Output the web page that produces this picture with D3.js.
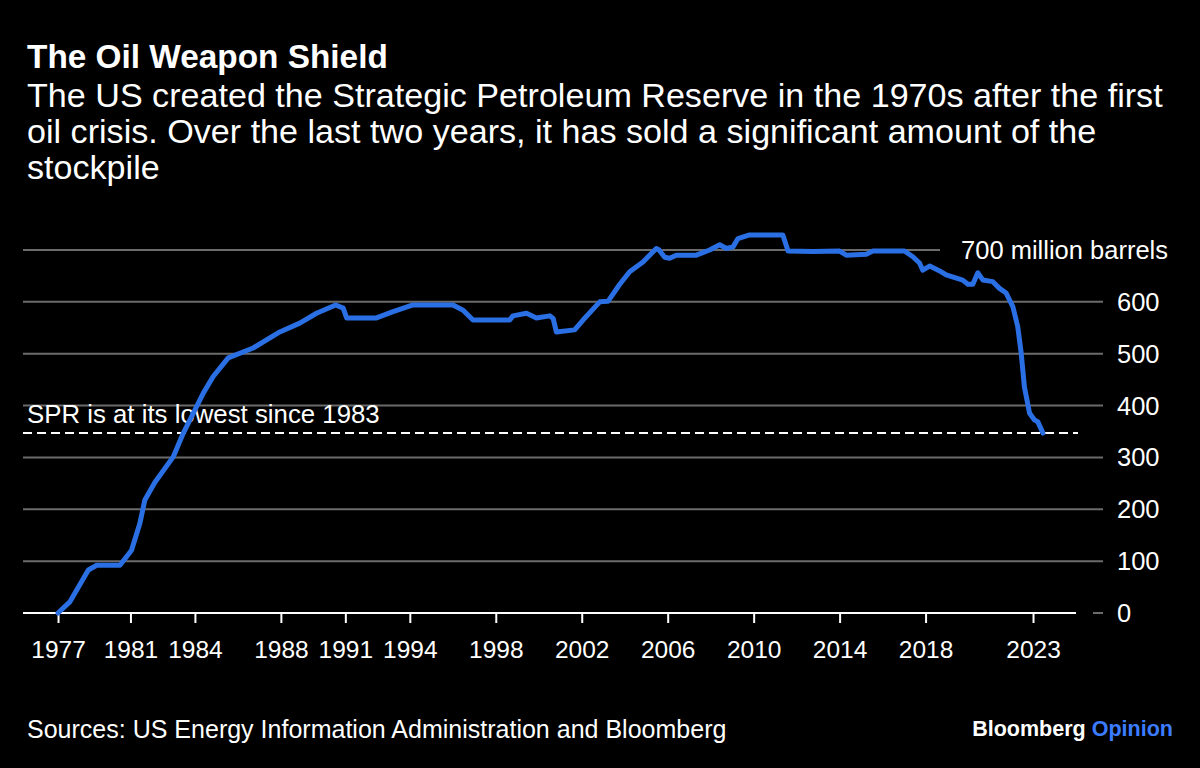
<!DOCTYPE html>
<html>
<head>
<meta charset="utf-8">
<script src="https://cdn.jsdelivr.net/npm/d3@7"></script>
<style>
  html, body { margin: 0; padding: 0; background: #000; }
  svg { display: block; }
  text { font-family: "Liberation Sans", Arial, Helvetica, sans-serif; fill: #fff; }
</style>
</head>
<body>
<div id="chart"></div>
<script>
// SPR stock, million barrels, decimal years
var years = [1977.63, 1978.19, 1979.04, 1979.43, 1980.51, 1981.05, 1981.44, 1981.67, 1982.14, 1982.99,
  1983.46, 1984.39, 1984.85, 1985.55, 1986.71, 1987.95, 1988.88, 1989.66, 1990.55, 1990.9,
  1991.06, 1992.45, 1993.22, 1994.15, 1996.01, 1996.48, 1996.94, 1998.65, 1998.8, 1999.43,
  1999.89, 2000.51, 2000.67, 2000.82, 2001.67, 2002.06, 2002.84, 2003.22, 2003.77, 2004.23,
  2004.85, 2005.47, 2005.6, 2005.86, 2006.09, 2006.4, 2007.33, 2007.95, 2008.42, 2008.73,
  2009.04, 2009.27, 2009.81, 2011.36, 2011.6, 2012.76, 2014.0, 2014.31, 2015.24, 2015.55,
  2017.02, 2017.41, 2017.72, 2017.87, 2018.19, 2018.73, 2018.96, 2019.73, 2019.97, 2020.2,
  2020.43, 2020.67, 2021.13, 2021.44, 2021.75, 2022.06, 2022.29, 2022.45, 2022.6, 2022.84,
  2023.07, 2023.22, 2023.46];
var barrels = [0, 22, 83, 92, 92, 121, 173, 218, 252, 301,
  347, 424, 456, 492, 511, 542, 559, 578, 594, 588,
  569, 569, 581, 594, 594, 584, 565, 565, 573, 578,
  569, 573, 568, 542, 546, 565, 600, 601, 634, 658,
  677, 703, 700, 686, 684, 690, 690, 700, 710, 703,
  706, 722, 729, 729, 698, 697, 698, 690, 692, 698,
  698, 687, 675, 661, 669, 658, 652, 642, 634, 634,
  656, 642, 639, 626, 617, 591, 552, 501, 436, 385,
  372, 369, 347];

var xTickYears = [1977.63, 1981, 1984, 1988, 1991, 1994, 1998, 2002, 2006, 2010, 2014, 2018, 2023];
var xTickLabels = ['1977', '1981', '1984', '1988', '1991', '1994', '1998', '2002', '2006', '2010', '2014', '2018', '2023'];
var yTicks = [0, 100, 200, 300, 400, 500, 600, 700];
var yTickLabels = ['0', '100', '200', '300', '400', '500', '600', '700 million barrels'];
var lowLevel = [347];

var title = 'The Oil Weapon Shield';
var subtitle = ['The US created the Strategic Petroleum Reserve in the 1970s after the first',
  'oil crisis. Over the last two years, it has sold a significant amount of the',
  'stockpile'];
var note = 'SPR is at its lowest since 1983';
var source = 'Sources: US Energy Information Administration and Bloomberg';

var WIDTH = 1200, HEIGHT = 768;
var LEFT = 23, AXIS_RIGHT = 1076, GRID_RIGHT = 1103;
var BLUE = '#2a6fe3';

var svg = d3.select('#chart').append('svg')
  .attr('width', WIDTH).attr('height', HEIGHT);
svg.append('rect').attr('width', WIDTH).attr('height', HEIGHT).attr('fill', '#000');

var x = d3.scaleLinear().domain([1976, 2025]).range([LEFT, AXIS_RIGHT]);
var y = d3.scaleLinear().domain([0, 700]).range([613, 250]);

// shrink or grow a text so that it spans the given width
function fit(sel, width) {
  var w = sel.node().getComputedTextLength();
  var fs = parseFloat(sel.style('font-size'));
  sel.style('font-size', (fs * width / w) + 'px');
  return sel;
}

// heading
fit(svg.append('text').attr('x', 27).attr('y', 68)
  .style('font-size', '28px').style('font-weight', 'bold').text(title), 361);
var subSize;
subtitle.forEach(function(line, i) {
  var t = svg.append('text').attr('x', 27).attr('y', 107 + i * 36)
    .style('font-size', '26px').text(line);
  if (i === 0) subSize = fit(t, 1136).style('font-size');
  else t.style('font-size', subSize);
});

// gridlines
var grid = svg.append('g');
grid.selectAll('line').data(yTicks.filter(function(d) { return d > 0; })).enter()
  .append('line')
  .attr('x1', LEFT)
  .attr('x2', function(d) { return d === 700 ? 940 : GRID_RIGHT; })
  .attr('y1', function(d) { return y(d); })
  .attr('y2', function(d) { return y(d); })
  .attr('stroke', '#6b6b6b').attr('stroke-width', 2);
grid.append('line')
  .attr('x1', 1093).attr('x2', GRID_RIGHT).attr('y1', y(0)).attr('y2', y(0))
  .attr('stroke', '#6b6b6b').attr('stroke-width', 2);

// y labels
svg.append('g').selectAll('text').data(yTicks).enter()
  .append('text')
  .attr('x', function(d) { return d === 700 ? 1168 : 1117; })
  .attr('y', function(d) { return y(d) + 9; })
  .attr('text-anchor', function(d) { return d === 700 ? 'end' : 'start'; })
  .style('font-size', '25.5px')
  .text(function(d, i) { return yTickLabels[i]; });

// x axis
var xAxis = d3.axisBottom(x)
  .tickValues(xTickYears)
  .tickSize(10)
  .tickFormat(function(d, i) { return xTickLabels[i]; });
var gx = svg.append('g').attr('transform', 'translate(0,' + y(0) + ')').call(xAxis);
gx.select('.domain').attr('stroke', '#fff').attr('stroke-width', 2).attr('d', 'M' + LEFT + ',0H' + AXIS_RIGHT);
gx.selectAll('.tick line').attr('stroke', '#fff').attr('stroke-width', 2);
gx.selectAll('.tick text').attr('fill', '#fff').attr('dy', null).attr('y', 45)
  .style('font-size', '24.5px').style('font-family', '"Liberation Sans", Arial, sans-serif');

// lowest level annotation
svg.append('g').selectAll('line').data(lowLevel).enter()
  .append('line')
  .attr('x1', LEFT).attr('x2', AXIS_RIGHT + 2)
  .attr('y1', function(d) { return y(d); }).attr('y2', function(d) { return y(d); })
  .attr('stroke', '#fff').attr('stroke-width', 2).attr('stroke-dasharray', '9,5');
fit(svg.append('text').attr('x', 27).attr('y', y(lowLevel[0]) - 10)
  .style('font-size', '25px').text(note), 353);

// the series
var series = years.map(function(d, i) { return [d, barrels[i]]; });
var line = d3.line()
  .x(function(d) { return x(d[0]); })
  .y(function(d) { return y(d[1]); });
svg.append('path').datum(series)
  .attr('d', line)
  .attr('fill', 'none').attr('stroke', BLUE).attr('stroke-width', 5)
  .attr('stroke-linejoin', 'round').attr('stroke-linecap', 'round');

// footer
fit(svg.append('text').attr('x', 27).attr('y', 738)
  .style('font-size', '22px').style('font-family', '"Liberation Sans Narrow", "Liberation Sans", sans-serif')
  .text(source), 700);
var brand = svg.append('text').attr('x', 1173).attr('y', 736).attr('text-anchor', 'end')
  .style('font-size', '20px').style('font-weight', 'bold')
  .style('font-family', '"Liberation Sans Narrow", "Liberation Sans", sans-serif');
brand.append('tspan').text('Bloomberg ');
brand.append('tspan').style('fill', '#3b7cff').text('Opinion');
fit(brand, 201);
</script>
</body>
</html>
